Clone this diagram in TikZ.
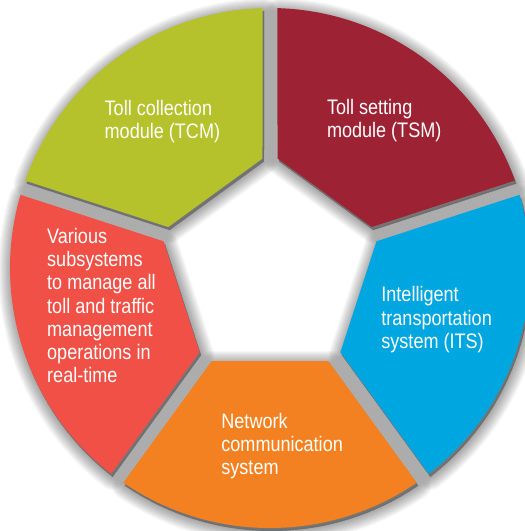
\documentclass[tikz,border=0pt]{standalone}
\usepackage{fontspec}
\setmainfont[FakeStretch=0.86]{Liberation Sans}
\definecolor{tcmcol}{RGB}{181,194,43}
\definecolor{tsmcol}{RGB}{157,35,52}
\definecolor{itscol}{RGB}{0,166,223}
\definecolor{netcol}{RGB}{243,129,33}
\definecolor{varcol}{RGB}{240,80,69}
\tikzset{
  lbl/.style={anchor=north west, inner sep=0pt, align=left, text=white,
    font=\fontsize{21}{23.2}\selectfont}
}
\begin{document}
\begin{tikzpicture}[x=1pt,y=1pt]
\useasboundingbox (0,0) rectangle (525,-531);
\fill[white] (0,0) rectangle (525,-531);
\clip (0,0) rectangle (525,-531);
\begin{scope}[shift={(270pt,-268pt)}]
  % soft shadows
  \foreach \a in {18,90,162,234,306} {
    \foreach \w in {1,...,12} {
      \draw[black, opacity=0.03, line width=\w*2.2pt, line join=round, fill=black, fill opacity=0.03,
            shift={(1.5pt,-3pt)}]
        ({\a+1.65}:260pt) arc[start angle={\a+1.65}, end angle={\a+70.35}, radius=260pt]
        -- ({\a+68.08}:109.76pt) -- ({\a+3.92}:109.76pt) -- cycle;
    }
  }
  % segments
  \foreach \a/\c in {18/tsmcol, 90/tcmcol, 162/varcol, 234/netcol, 306/itscol} {
    \fill[\c] ({\a+1.65}:260pt) arc[start angle={\a+1.65}, end angle={\a+70.35}, radius=260pt]
      -- ({\a+68.08}:109.76pt) -- ({\a+3.92}:109.76pt) -- cycle;
  }
\end{scope}
\node[lbl] (tcm) at (104.5,-99.7) {Toll collection\\module (TCM)};
\node[lbl] (tsm) at (326.8,-99) {Toll setting\\module (TSM)};
\node[lbl] (var) at (47,-228) {Various\\subsystems\\to manage all\\toll and traffic\\management\\operations in\\real-time};
\node[lbl] (its) at (381.2,-286.5) {Intelligent\\transportation\\system (ITS)};
\node[lbl] (net) at (221.2,-413) {Network\\communication\\system};
\end{tikzpicture}
\end{document}
